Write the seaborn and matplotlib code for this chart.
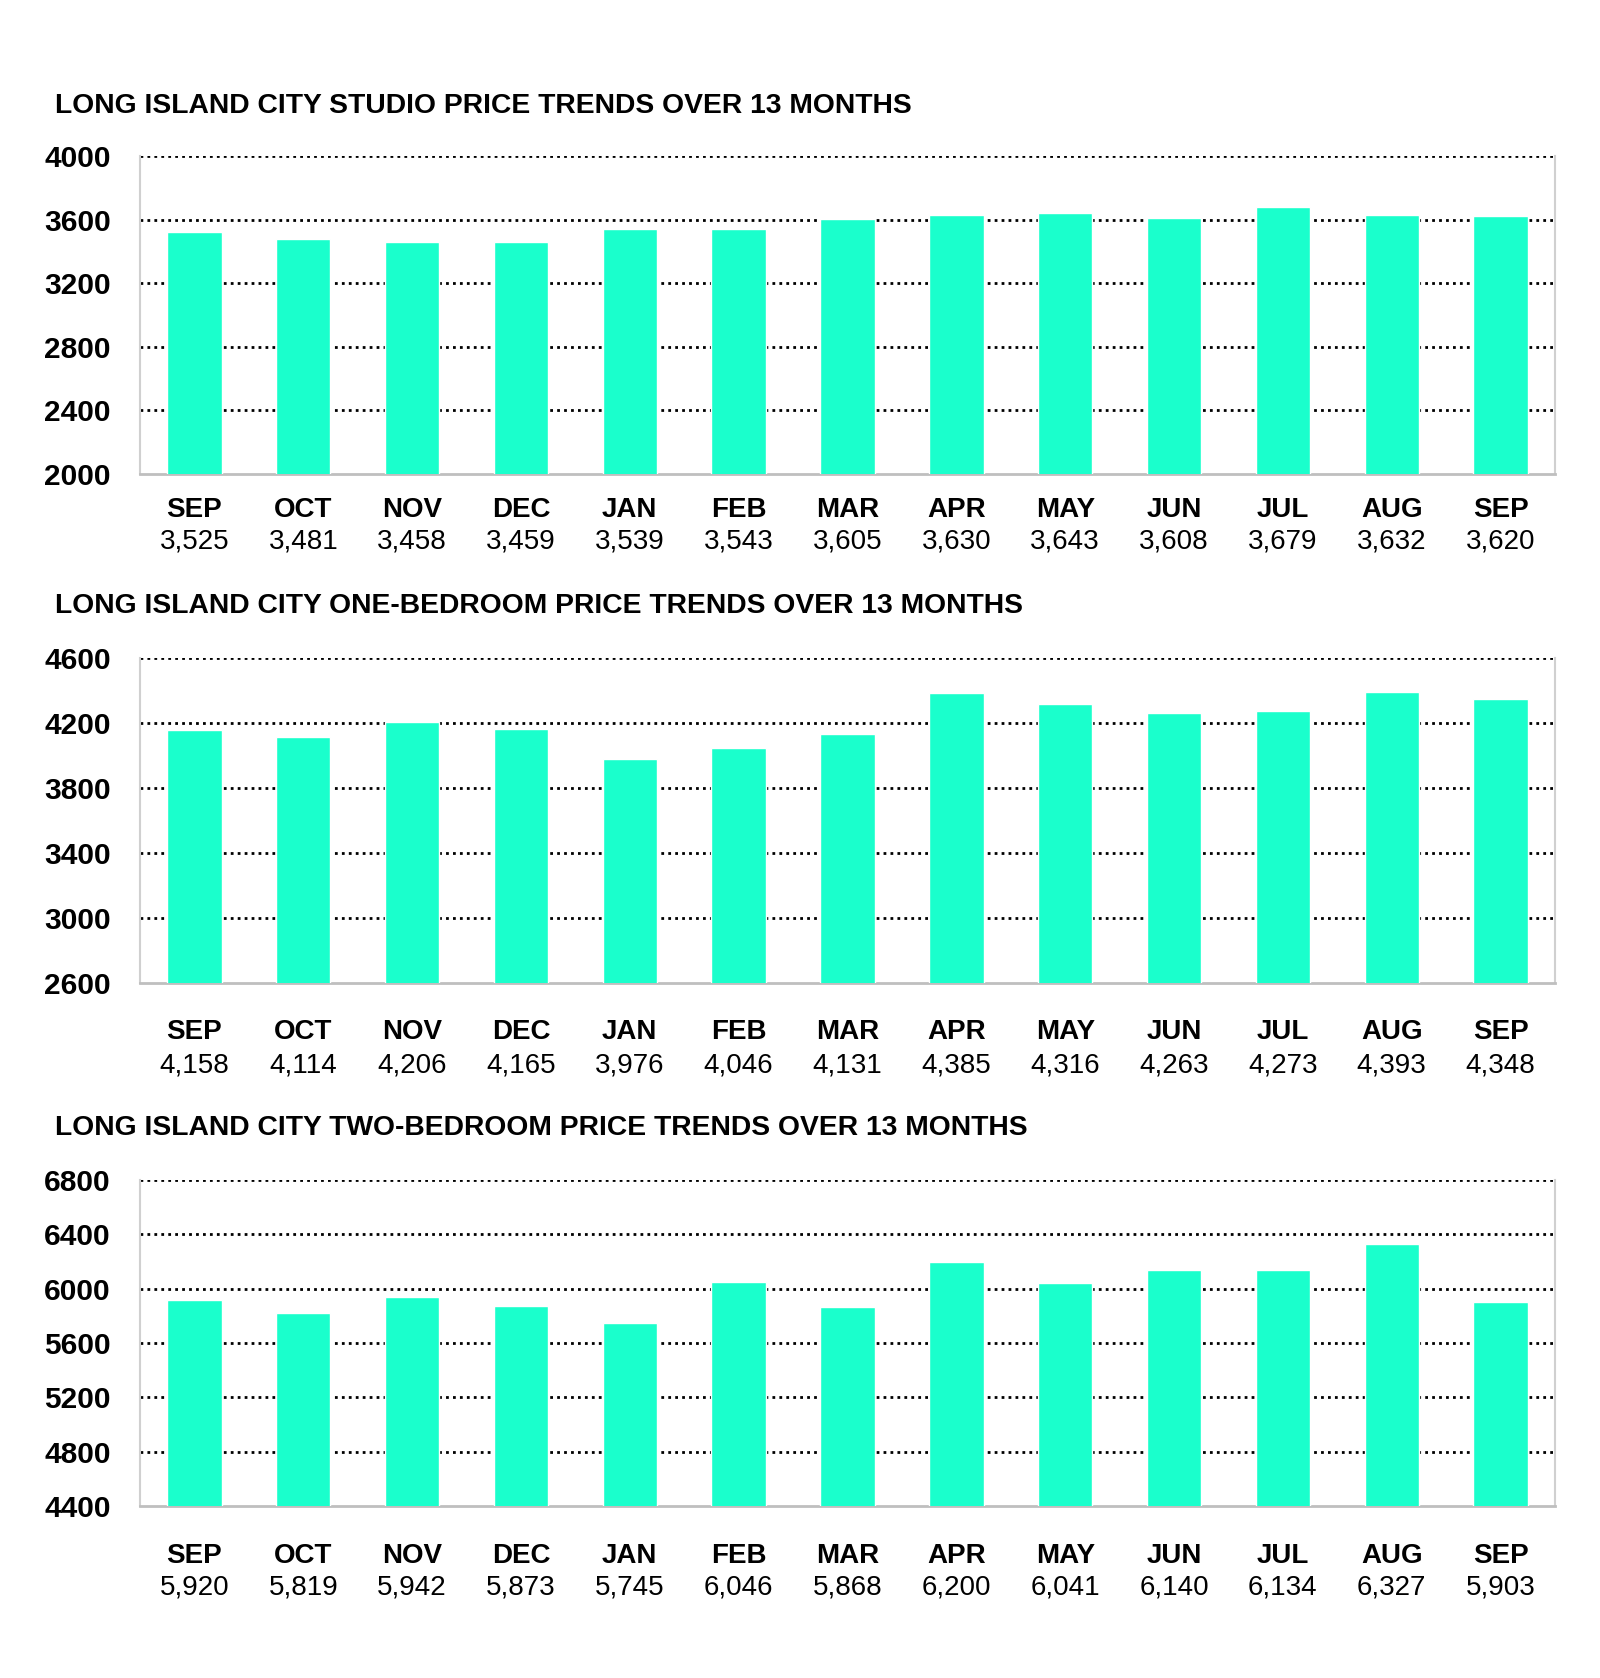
import numpy as np
import pandas as pd
import matplotlib
matplotlib.use("Agg")
import matplotlib.pyplot as plt
import matplotlib.transforms as mtransforms
import seaborn as sns

months = ["SEP", "OCT", "NOV", "DEC", "JAN", "FEB", "MAR", "APR", "MAY", "JUN", "JUL", "AUG", "SEP"]
studio = [3525, 3481, 3458, 3459, 3539, 3543, 3605, 3630, 3643, 3608, 3679, 3632, 3620]
one_bed = [4158, 4114, 4206, 4165, 3976, 4046, 4131, 4385, 4316, 4263, 4273, 4393, 4348]
two_bed = [5920, 5819, 5942, 5873, 5745, 6046, 5868, 6200, 6041, 6140, 6134, 6327, 5903]

titles = [
    "LONG ISLAND CITY STUDIO PRICE TRENDS OVER 13 MONTHS",
    "LONG ISLAND CITY ONE-BEDROOM PRICE TRENDS OVER 13 MONTHS",
    "LONG ISLAND CITY TWO-BEDROOM PRICE TRENDS OVER 13 MONTHS",
]
yticks_list = [
    [2000, 2400, 2800, 3200, 3600, 4000],
    [2600, 3000, 3400, 3800, 4200, 4600],
    [4400, 4800, 5200, 5600, 6000, 6400, 6800],
]
series = [studio, one_bed, two_bed]

sns.set_theme(style="white")
plt.rcParams["font.family"] = ["Liberation Sans", "DejaVu Sans"]
plt.rcParams["text.color"] = "black"
plt.rcParams["xtick.color"] = "black"
plt.rcParams["ytick.color"] = "black"

W, H = 1600, 1678
fig = plt.figure(figsize=(W / 100, H / 100), dpi=100)

# (top px, bottom px, title y px, month offset px, value offset px)
layout = [
    (156, 474, 106, 36, 67),
    (658, 983, 606, 49, 82),
    (1180, 1506, 1128, 50, 82),
]
left_px, right_px = 140, 1555
bar_color = "#1AFFCC"

for k, (vals, title, yt) in enumerate(zip(series, titles, yticks_list)):
    top, bot, ty, mo, vo = layout[k]
    ax = fig.add_axes([left_px / W, 1 - bot / H, (right_px - left_px) / W, (bot - top) / H])
    df = pd.DataFrame({"pos": np.arange(len(vals)), "value": vals})
    sns.barplot(data=df, x="pos", y="value", color=bar_color, saturation=1,
                width=0.5, ax=ax, zorder=3)
    ax.set_ylim(yt[0], yt[-1])
    ax.set_xlim(-0.5, len(vals) - 0.5)
    ax.set_yticks(yt)
    ax.set_yticklabels([str(v) for v in yt], fontsize=21.5, fontweight="bold",
                       family=["Liberation Sans", "DejaVu Sans"], color="black")
    ax.tick_params(axis="y", length=0, pad=21)
    ax.set_xticks(np.arange(len(vals)))
    ax.set_xticklabels([""] * len(vals))
    ax.tick_params(axis="x", which="major", length=0)
    ax.set_xticks(np.arange(len(vals) + 1) - 0.5, minor=True)
    ax.tick_params(axis="x", which="minor", length=7, width=1.5, color="#BFBFBF", direction="out")
    ax.set_xlabel("")
    ax.set_ylabel("")
    for yv in yt[1:]:
        ax.axhline(yv, color="black", linestyle=(0, (1, 1.5)), linewidth=2.0, zorder=2)
    for side in ["left", "right", "bottom"]:
        ax.spines[side].set_visible(True)
        ax.spines[side].set_color("#D0D0D0")
        ax.spines[side].set_linewidth(1.5)
    ax.spines["bottom"].set_color("#BFBFBF")
    ax.spines["bottom"].set_linewidth(2)
    ax.spines["top"].set_visible(False)
    ax.grid(False)

    trans = mtransforms.blended_transform_factory(ax.transData, ax.transAxes)
    for i, (m, v) in enumerate(zip(months, vals)):
        ax.annotate(m, xy=(i, 0), xycoords=trans, xytext=(0, -mo * 0.72),
                    textcoords="offset points", ha="center", va="center",
                    fontsize=20, fontweight="bold", color="black")
        ax.annotate(f"{v:,}", xy=(i, 0), xycoords=trans, xytext=(0, -vo * 0.72),
                    textcoords="offset points", ha="center", va="center",
                    fontsize=20, color="black")

    fig.text(55 / W, 1 - ty / H, title, ha="left", va="center",
             fontsize=20.3, fontweight="bold", color="black")

fig.savefig("out.png", dpi=100, facecolor="white")
